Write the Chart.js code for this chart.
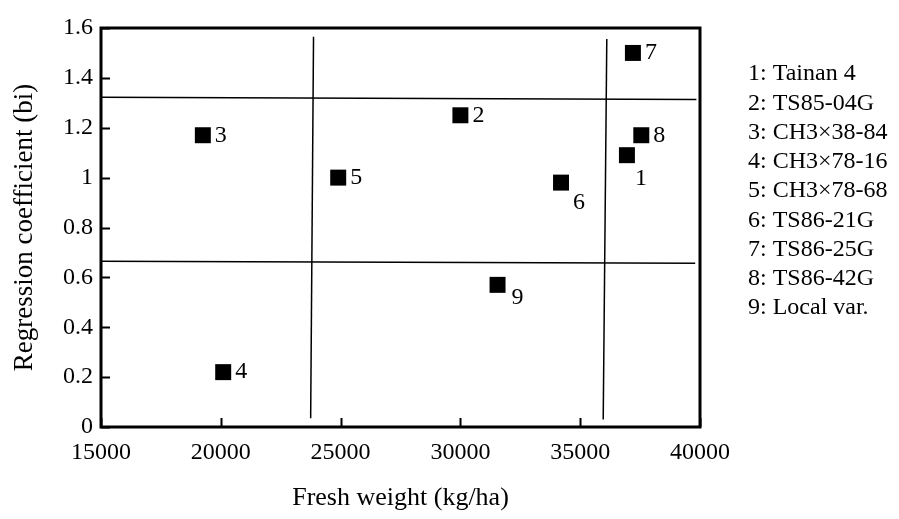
<!DOCTYPE html>
<html>
<head>
<meta charset="utf-8">
<script src="https://cdn.jsdelivr.net/npm/chart.js@4.4.1/dist/chart.umd.min.js"></script>
<style>
  html, body { margin: 0; padding: 0; background: #ffffff; }
  #wrap { width: 899px; height: 519px; position: relative; }
</style>
</head>
<body>
<div id="wrap"><canvas id="c" width="899" height="519"></canvas></div>
<script>
// ---- Data ----
const pointIds   = ['1', '2', '3', '4', '5', '6', '7', '8', '9'];
const freshWeight = [36950, 30000, 19250, 20100, 24900, 34200, 37200, 37550, 31550];
const regressionB = [1.09, 1.25, 1.17, 0.22, 1.00, 0.98, 1.50, 1.17, 0.57];
const varietyNames = ['Tainan 4', 'TS85-04G', 'CH3×38-84', 'CH3×78-16', 'CH3×78-68',
                      'TS86-21G', 'TS86-25G', 'TS86-42G', 'Local var.'];

// Reference (division) lines
const upperLineX = [15000, 39850];
const upperLineY = [1.322, 1.313];
const lowerLineX = [15000, 39800];
const lowerLineY = [0.665, 0.657];
const leftVLineX = [23870, 23750];
const leftVLineY = [1.565, 0.035];
const rightVLineX = [36110, 35960];
const rightVLineY = [1.556, 0.03];

// Axes
const xMin = 15000, xMax = 40000, xStep = 5000;
const yMin = 0, yMax = 1.6, yStep = 0.2;
const xTickLabels = ['15000', '20000', '25000', '30000', '35000', '40000'];
const yTickLabels = ['0', '0.2', '0.4', '0.6', '0.8', '1', '1.2', '1.4', '1.6'];

// ---- Styling ----
const FONT = '"Liberation Serif", "Times New Roman", serif';
const labelOffsets = { // style: where each point number sits relative to its marker
  '1': [8, 24, 'left'], '6': [12, 20, 'left'], '9': [14, 13, 'left']
};
const defaultOffset = [12, 0, 'left'];

function pairs(xs, ys) { return xs.map((x, i) => ({ x: x, y: ys[i] })); }

const lineStyle = {
  type: 'line', showLine: true, borderColor: '#000', borderWidth: 1.5,
  pointRadius: 0, fill: false, tension: 0
};

const frameAndTicks = {
  id: 'frameAndTicks',
  afterDatasetsDraw(chart) {
    const { ctx, chartArea: a, scales } = chart;
    ctx.save();
    ctx.strokeStyle = '#000';
    // inward ticks
    ctx.lineWidth = 2;
    ctx.beginPath();
    for (let v = yMin; v <= yMax + 1e-9; v += yStep) {
      const py = Math.round(scales.y.getPixelForValue(v)) + 0.5;
      ctx.moveTo(a.left, py); ctx.lineTo(a.left + 9, py);
    }
    for (let v = xMin; v <= xMax; v += xStep) {
      const px = Math.round(scales.x.getPixelForValue(v)) + 0.5;
      ctx.moveTo(px, a.bottom); ctx.lineTo(px, a.bottom - 9);
    }
    ctx.stroke();
    // frame
    ctx.lineWidth = 3;
    ctx.strokeRect(a.left, a.top, a.right - a.left, a.bottom - a.top);
    // point labels
    ctx.fillStyle = '#000';
    ctx.font = '24px ' + FONT;
    ctx.textBaseline = 'middle';
    const meta = chart.getDatasetMeta(0);
    meta.data.forEach((pt, i) => {
      const id = pointIds[i];
      const o = labelOffsets[id] || defaultOffset;
      ctx.textAlign = o[2];
      ctx.fillText(id, pt.x + o[0], pt.y + o[1]);
    });
    // legend list
    ctx.font = '24px ' + FONT;
    ctx.textAlign = 'left';
    varietyNames.forEach((n, i) => {
      ctx.fillText(pointIds[i] + ': ' + n, 748, 74 + i * 29.25);
    });
    ctx.restore();
  }
};

new Chart(document.getElementById('c'), {
  type: 'scatter',
  data: {
    datasets: [
      {
        label: 'Varieties',
        data: pairs(freshWeight, regressionB),
        pointStyle: 'rect', pointRadius: 11.3, pointHoverRadius: 11.3,
        backgroundColor: '#000', borderWidth: 0
      },
      Object.assign({ data: pairs(upperLineX, upperLineY) }, lineStyle),
      Object.assign({ data: pairs(lowerLineX, lowerLineY) }, lineStyle),
      Object.assign({ data: pairs(leftVLineX, leftVLineY) }, lineStyle),
      Object.assign({ data: pairs(rightVLineX, rightVLineY) }, lineStyle)
    ]
  },
  options: {
    responsive: false,
    animation: false,
    events: [],
    layout: { padding: { left: 0, right: 199, top: 28, bottom: 0 } },
    plugins: { legend: { display: false }, tooltip: { enabled: false } },
    scales: {
      x: {
        type: 'linear', min: xMin, max: xMax,
        ticks: {
          stepSize: xStep, color: '#000', padding: 11,
          font: { family: FONT, size: 24 },
          maxRotation: 0,
          callback: (v, i) => xTickLabels[i]
        },
        grid: { display: false, drawTicks: false },
        border: { display: false },
        title: {
          display: true, text: 'Fresh weight (kg/ha)', color: '#000',
          font: { family: FONT, size: 26 }, padding: { top: 0, bottom: 5 }
        },
        afterFit: s => { s.height = 92; }
      },
      y: {
        type: 'linear', min: yMin, max: yMax,
        ticks: {
          stepSize: yStep, color: '#000', padding: 8,
          font: { family: FONT, size: 24 },
          callback: (v, i) => yTickLabels[i]
        },
        grid: { display: false, drawTicks: false },
        border: { display: false },
        title: {
          display: true, text: 'Regression coefficient (bi)', color: '#000',
          font: { family: FONT, size: 27 }, padding: { top: 9, bottom: 0 }
        },
        afterFit: s => { s.width = 101; }
      }
    }
  },
  plugins: [frameAndTicks]
});
</script>
</body>
</html>
